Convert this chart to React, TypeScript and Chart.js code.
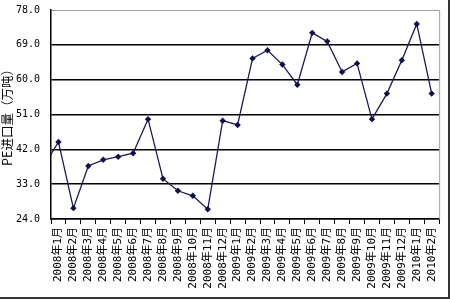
import React, { useEffect, useRef } from "react";
import { Chart, registerables } from "chart.js";

Chart.register(...registerables);

// first entry (2007年12月) lies just left of the plot and is clipped, as in the reference
const categories = [
  "2007年12月",
  "2008年1月", "2008年2月", "2008年3月", "2008年4月", "2008年5月", "2008年6月",
  "2008年7月", "2008年8月", "2008年9月", "2008年10月", "2008年11月", "2008年12月",
  "2009年1月", "2009年2月", "2009年3月", "2009年4月", "2009年5月", "2009年6月",
  "2009年7月", "2009年8月", "2009年9月", "2009年10月", "2009年11月", "2009年12月",
  "2010年1月", "2010年2月",
];

const peImports = [
  37.6,
  43.9, 26.8, 37.7, 39.3, 40.1, 41.0,
  49.8, 34.4, 31.3, 30.0, 26.5, 49.4,
  48.3, 65.5, 67.6, 63.9, 58.7, 72.1,
  69.9, 62.0, 64.2, 49.8, 56.4, 65.0,
  74.4, 56.4,
];

const yMin = 24;
const yMax = 78;
const yStep = 9;
const yTitle = "PE进口量（万吨）";

const frameBorder = {
  id: "frameBorder",
  beforeDatasetsDraw(chart: any) {
    const { ctx, chartArea } = chart;
    ctx.save();
    ctx.strokeStyle = "#a0a0a0";
    ctx.lineWidth = 1;
    ctx.beginPath();
    ctx.moveTo(chartArea.right + 0.5, chartArea.top);
    ctx.lineTo(chartArea.right + 0.5, chartArea.bottom);
    ctx.stroke();
    ctx.restore();
  },
};

export default function App() {
  const canvasRef = useRef<HTMLCanvasElement>(null);

  useEffect(() => {
    if (!canvasRef.current) return;
    const chart = new Chart(canvasRef.current, {
      type: "line",
      data: {
        datasets: [
          {
            data: peImports.map((v, i) => ({ x: i, y: v })),
            borderColor: "#1a1a5a",
            borderWidth: 1.3,
            backgroundColor: "#10104a",
            pointStyle: "rectRot",
            pointRadius: 3.2,
            pointBorderWidth: 0,
            pointBackgroundColor: "#10104a",
            tension: 0,
          },
        ],
      },
      options: {
        animation: false,
        responsive: true,
        maintainAspectRatio: false,
        layout: { padding: { top: 10, right: 6, left: 0, bottom: 0 } },
        plugins: {
          legend: { display: false },
          tooltip: { enabled: false },
        },
        scales: {
          x: {
            type: "linear",
            min: 0.5,
            max: categories.length - 0.5,
            afterBuildTicks: (scale: any) => {
              scale.ticks = categories.slice(1).map((_, i) => ({ value: i + 1 }));
            },
            afterFit: (scale: any) => {
              scale.height = 78;
            },
            grid: {
              offset: true,
              drawOnChartArea: false,
              drawTicks: true,
              tickLength: 5,
              color: "#000",
              lineWidth: 1,
            },
            border: { display: true, color: "#000", width: 1.5 },
            ticks: {
              autoSkip: false,
              minRotation: 90,
              maxRotation: 90,
              padding: 3,
              color: "#000",
              font: { family: "'DejaVu Sans Mono', 'Noto Sans CJK SC'", size: 11 },
              callback: (v: any) => categories[Math.round(Number(v))] ?? "",
            },
          },
          y: {
            min: yMin,
            max: yMax,
            afterFit: (scale: any) => {
              scale.width = 51;
              scale.paddingTop = 0;
              scale.paddingBottom = 0;
            },
            grid: {
              drawTicks: false,
              color: (ctx: any) => (ctx.tick && ctx.tick.value === yMax ? "#a0a0a0" : "#000"),
              lineWidth: (ctx: any) => (ctx.tick && ctx.tick.value === yMax ? 1 : 1.5),
            },
            border: { display: true, color: "#000", width: 1.5 },
            ticks: {
              stepSize: yStep,
              padding: 11,
              color: "#000",
              font: { family: "'DejaVu Sans Mono'", size: 10 },
              callback: (v: any) => Number(v).toFixed(1),
            },
            title: {
              display: true,
              text: yTitle,
              color: "#000",
              padding: { top: 0, bottom: 0 },
              font: { family: "'Noto Sans CJK SC', 'DejaVu Sans Mono'", size: 12.5 },
            },
          },
        },
      },
      plugins: [frameBorder],
    });
    return () => chart.destroy();
  }, []);

  return (
    <div
      style={{
        position: "absolute",
        left: 0,
        top: 0,
        width: 448,
        height: 297,
        borderRight: "2px solid #333",
        borderBottom: "2px solid #333",
        background: "#fff",
      }}
    >
      <canvas ref={canvasRef} />
    </div>
  );
}
